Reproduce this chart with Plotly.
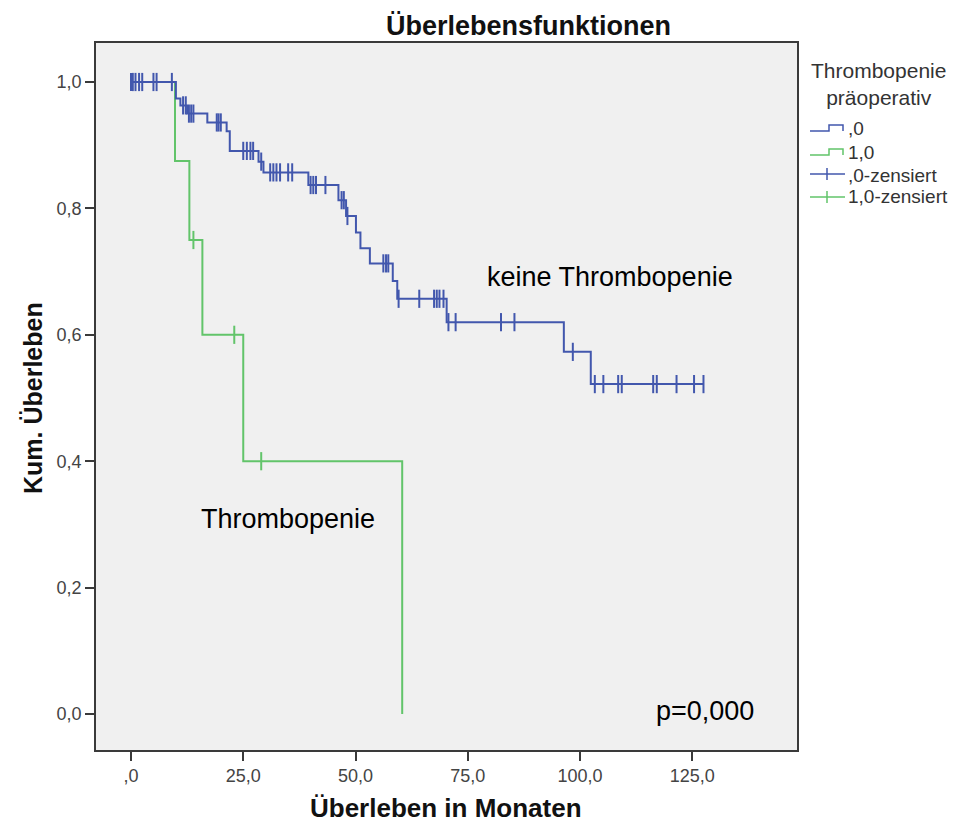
import plotly.graph_objects as go

# Kaplan-Meier estimates: survival in months, grouped by preoperative thrombopenia
# group ",0" (keine Thrombopenie)
blue_event_times = [10.0, 11.0, 12.5, 17.0, 21.3, 22.0, 28.4, 29.5, 39.5, 46.2, 47.9,
                    50.1, 51.1, 53.2, 58.3, 59.3, 70.3, 96.4, 102.4]
blue_survival = [0.974, 0.963, 0.950, 0.936, 0.922, 0.891, 0.874, 0.857, 0.837, 0.813, 0.788,
                 0.762, 0.737, 0.713, 0.685, 0.657, 0.620, 0.573, 0.522]
blue_censored = [0.0, 0.4, 1.0, 1.8, 2.5, 5.0, 5.7, 9.1, 11.6, 12.2, 12.9, 13.4, 13.9,
                 19.1, 19.5, 20.0, 25.0, 25.8, 26.6, 27.2, 29.0, 31.0, 31.7, 32.4, 33.2,
                 35.0, 35.9, 40.0, 40.6, 41.2, 43.3, 46.9, 47.4, 48.2, 56.2, 56.8, 57.3,
                 59.6, 64.2, 67.5, 68.1, 68.7, 69.6, 70.7, 72.3, 82.4, 85.4, 98.4,
                 103.3, 105.2, 108.5, 109.3, 116.3, 117.1, 121.5, 125.4, 127.5]

# group "1,0" (Thrombopenie)
green_event_times = [9.8, 13.0, 15.9, 25.0, 60.4]
green_survival = [0.875, 0.75, 0.60, 0.40, 0.0]
green_censored = [13.9, 23.0, 29.0]

x_tick_vals = [0, 25, 50, 75, 100, 125]
x_tick_text = [",0", "25,0", "50,0", "75,0", "100,0", "125,0"]
y_tick_vals = [0.0, 0.2, 0.4, 0.6, 0.8, 1.0]
y_tick_text = ["0,0", "0,2", "0,4", "0,6", "0,8", "1,0"]

legend_title = "Thrombopenie<br>präoperativ"
legend_labels = [",0", "1,0", ",0-zensiert", "1,0-zensiert"]

BLUE = "#4257ad"
GREEN = "#62c46a"
FONT = "Liberation Sans, Arial, sans-serif"

W, H = 953, 825
L, R, T, B = 96, 797, 43, 750  # plot frame in pixels


def px(x):
    return (x - L) / (R - L)


def py(y):
    return (B - y) / (B - T)


def step_value(t, times, surv):
    s = 1.0
    for ti, si in zip(times, surv):
        if ti <= t:
            s = si
    return s


def km_path(times, surv, end_time=None):
    xs = [0.0] + list(times)
    ys = [1.0] + list(surv)
    if end_time is not None and end_time > xs[-1]:
        xs.append(end_time)
        ys.append(ys[-1])
    return xs, ys


fig = go.Figure()

gx, gy = km_path(green_event_times, green_survival)
fig.add_trace(go.Scatter(x=gx, y=gy, mode="lines", line=dict(color=GREEN, width=2, shape="hv"),
                         showlegend=False, hoverinfo="skip"))
fig.add_trace(go.Scatter(x=green_censored,
                         y=[step_value(t, green_event_times, green_survival) for t in green_censored],
                         mode="markers",
                         marker=dict(symbol="line-ns", size=13, line=dict(color=GREEN, width=2)),
                         showlegend=False, hoverinfo="skip"))

bx, by = km_path(blue_event_times, blue_survival, max(blue_censored))
fig.add_trace(go.Scatter(x=bx, y=by, mode="lines", line=dict(color=BLUE, width=2, shape="hv"),
                         showlegend=False, hoverinfo="skip"))
fig.add_trace(go.Scatter(x=blue_censored,
                         y=[step_value(t, blue_event_times, blue_survival) for t in blue_censored],
                         mode="markers",
                         marker=dict(symbol="line-ns", size=13, line=dict(color=BLUE, width=2)),
                         showlegend=False, hoverinfo="skip"))

shapes = []
annotations = []

# legend drawn beside the frame
x0, x1 = 810, 845
step_rows = [(131, BLUE), (155, GREEN)]
for yb, col in step_rows:
    path = "M {} {} L {} {} L {} {} L {} {} L {} {}".format(
        px(x0), py(yb), px(829), py(yb), px(829), py(yb - 6), px(843), py(yb - 6), px(843), py(yb))
    shapes.append(dict(type="path", xref="paper", yref="paper", path=path,
                       line=dict(color=col, width=1.5)))
cens_rows = [(174, BLUE), (197, GREEN)]
for yc, col in cens_rows:
    shapes.append(dict(type="line", xref="paper", yref="paper", x0=px(x0), x1=px(x1),
                       y0=py(yc), y1=py(yc), line=dict(color=col, width=1.5)))
    shapes.append(dict(type="line", xref="paper", yref="paper", x0=px(827), x1=px(827),
                       y0=py(yc - 6), y1=py(yc + 6), line=dict(color=col, width=1.5)))

annotations.append(dict(text=legend_title, xref="paper", yref="paper", x=px(879), y=py(84),
                        xanchor="center", yanchor="middle", showarrow=False, align="center",
                        font=dict(family=FONT, size=21, color="#333333")))
for label, yt in zip(legend_labels, [128, 152, 175, 197]):
    annotations.append(dict(text=label, xref="paper", yref="paper", x=px(846), y=py(yt),
                            xanchor="left", yanchor="middle", showarrow=False,
                            font=dict(family=FONT, size=19, color="#333333")))

# titles
annotations.append(dict(text="<b>Überlebensfunktionen</b>", xref="paper", yref="paper",
                        x=px(528), y=py(26), xanchor="center", yanchor="middle", showarrow=False,
                        font=dict(family=FONT, size=27, color="#111111")))
annotations.append(dict(text="<b>Überleben in Monaten</b>", xref="paper", yref="paper",
                        x=px(446), y=py(808), xanchor="center", yanchor="middle", showarrow=False,
                        font=dict(family=FONT, size=26, color="#111111")))
annotations.append(dict(text="<b>Kum. Überleben</b>", xref="paper", yref="paper",
                        x=px(33), y=py(398), xanchor="center", yanchor="middle", showarrow=False,
                        textangle=-90, font=dict(family=FONT, size=25, color="#111111")))

# labels inside the plot
annotations.append(dict(text="keine Thrombopenie", x=106.7, y=0.691, xref="x", yref="y",
                        xanchor="center", yanchor="middle", showarrow=False,
                        font=dict(family=FONT, size=27, color="#000000")))
annotations.append(dict(text="Thrombopenie", x=35.0, y=0.309, xref="x", yref="y",
                        xanchor="center", yanchor="middle", showarrow=False,
                        font=dict(family=FONT, size=27, color="#000000")))
annotations.append(dict(text="p=0,000", x=127.8, y=0.005, xref="x", yref="y",
                        xanchor="center", yanchor="middle", showarrow=False,
                        font=dict(family=FONT, size=27, color="#000000")))

fig.update_layout(
    width=W, height=H,
    margin=dict(l=L, r=W - R, t=T, b=H - B, pad=0),
    paper_bgcolor="white",
    plot_bgcolor="#f0f0f0",
    showlegend=False,
    shapes=shapes,
    annotations=annotations,
    font=dict(family=FONT),
)
fig.update_xaxes(range=[(L - 131) / 4.49, (R - 131) / 4.49], tickvals=x_tick_vals,
                 ticktext=x_tick_text, showgrid=False, zeroline=False,
                 showline=True, linecolor="#3a3a3a", linewidth=1.5, mirror=True,
                 ticks="outside", ticklen=9, tickwidth=2, tickcolor="#3a3a3a",
                 tickfont=dict(family=FONT, size=18, color="#444444"))
fig.update_yaxes(range=[(714 - B) / 632, (714 - T) / 632], tickvals=y_tick_vals,
                 ticktext=y_tick_text, showgrid=False, zeroline=False,
                 showline=True, linecolor="#3a3a3a", linewidth=1.5, mirror=True,
                 ticks="outside", ticklen=9, tickwidth=2, tickcolor="#3a3a3a",
                 tickfont=dict(family=FONT, size=18, color="#444444"))

fig.write_html("out.html")
